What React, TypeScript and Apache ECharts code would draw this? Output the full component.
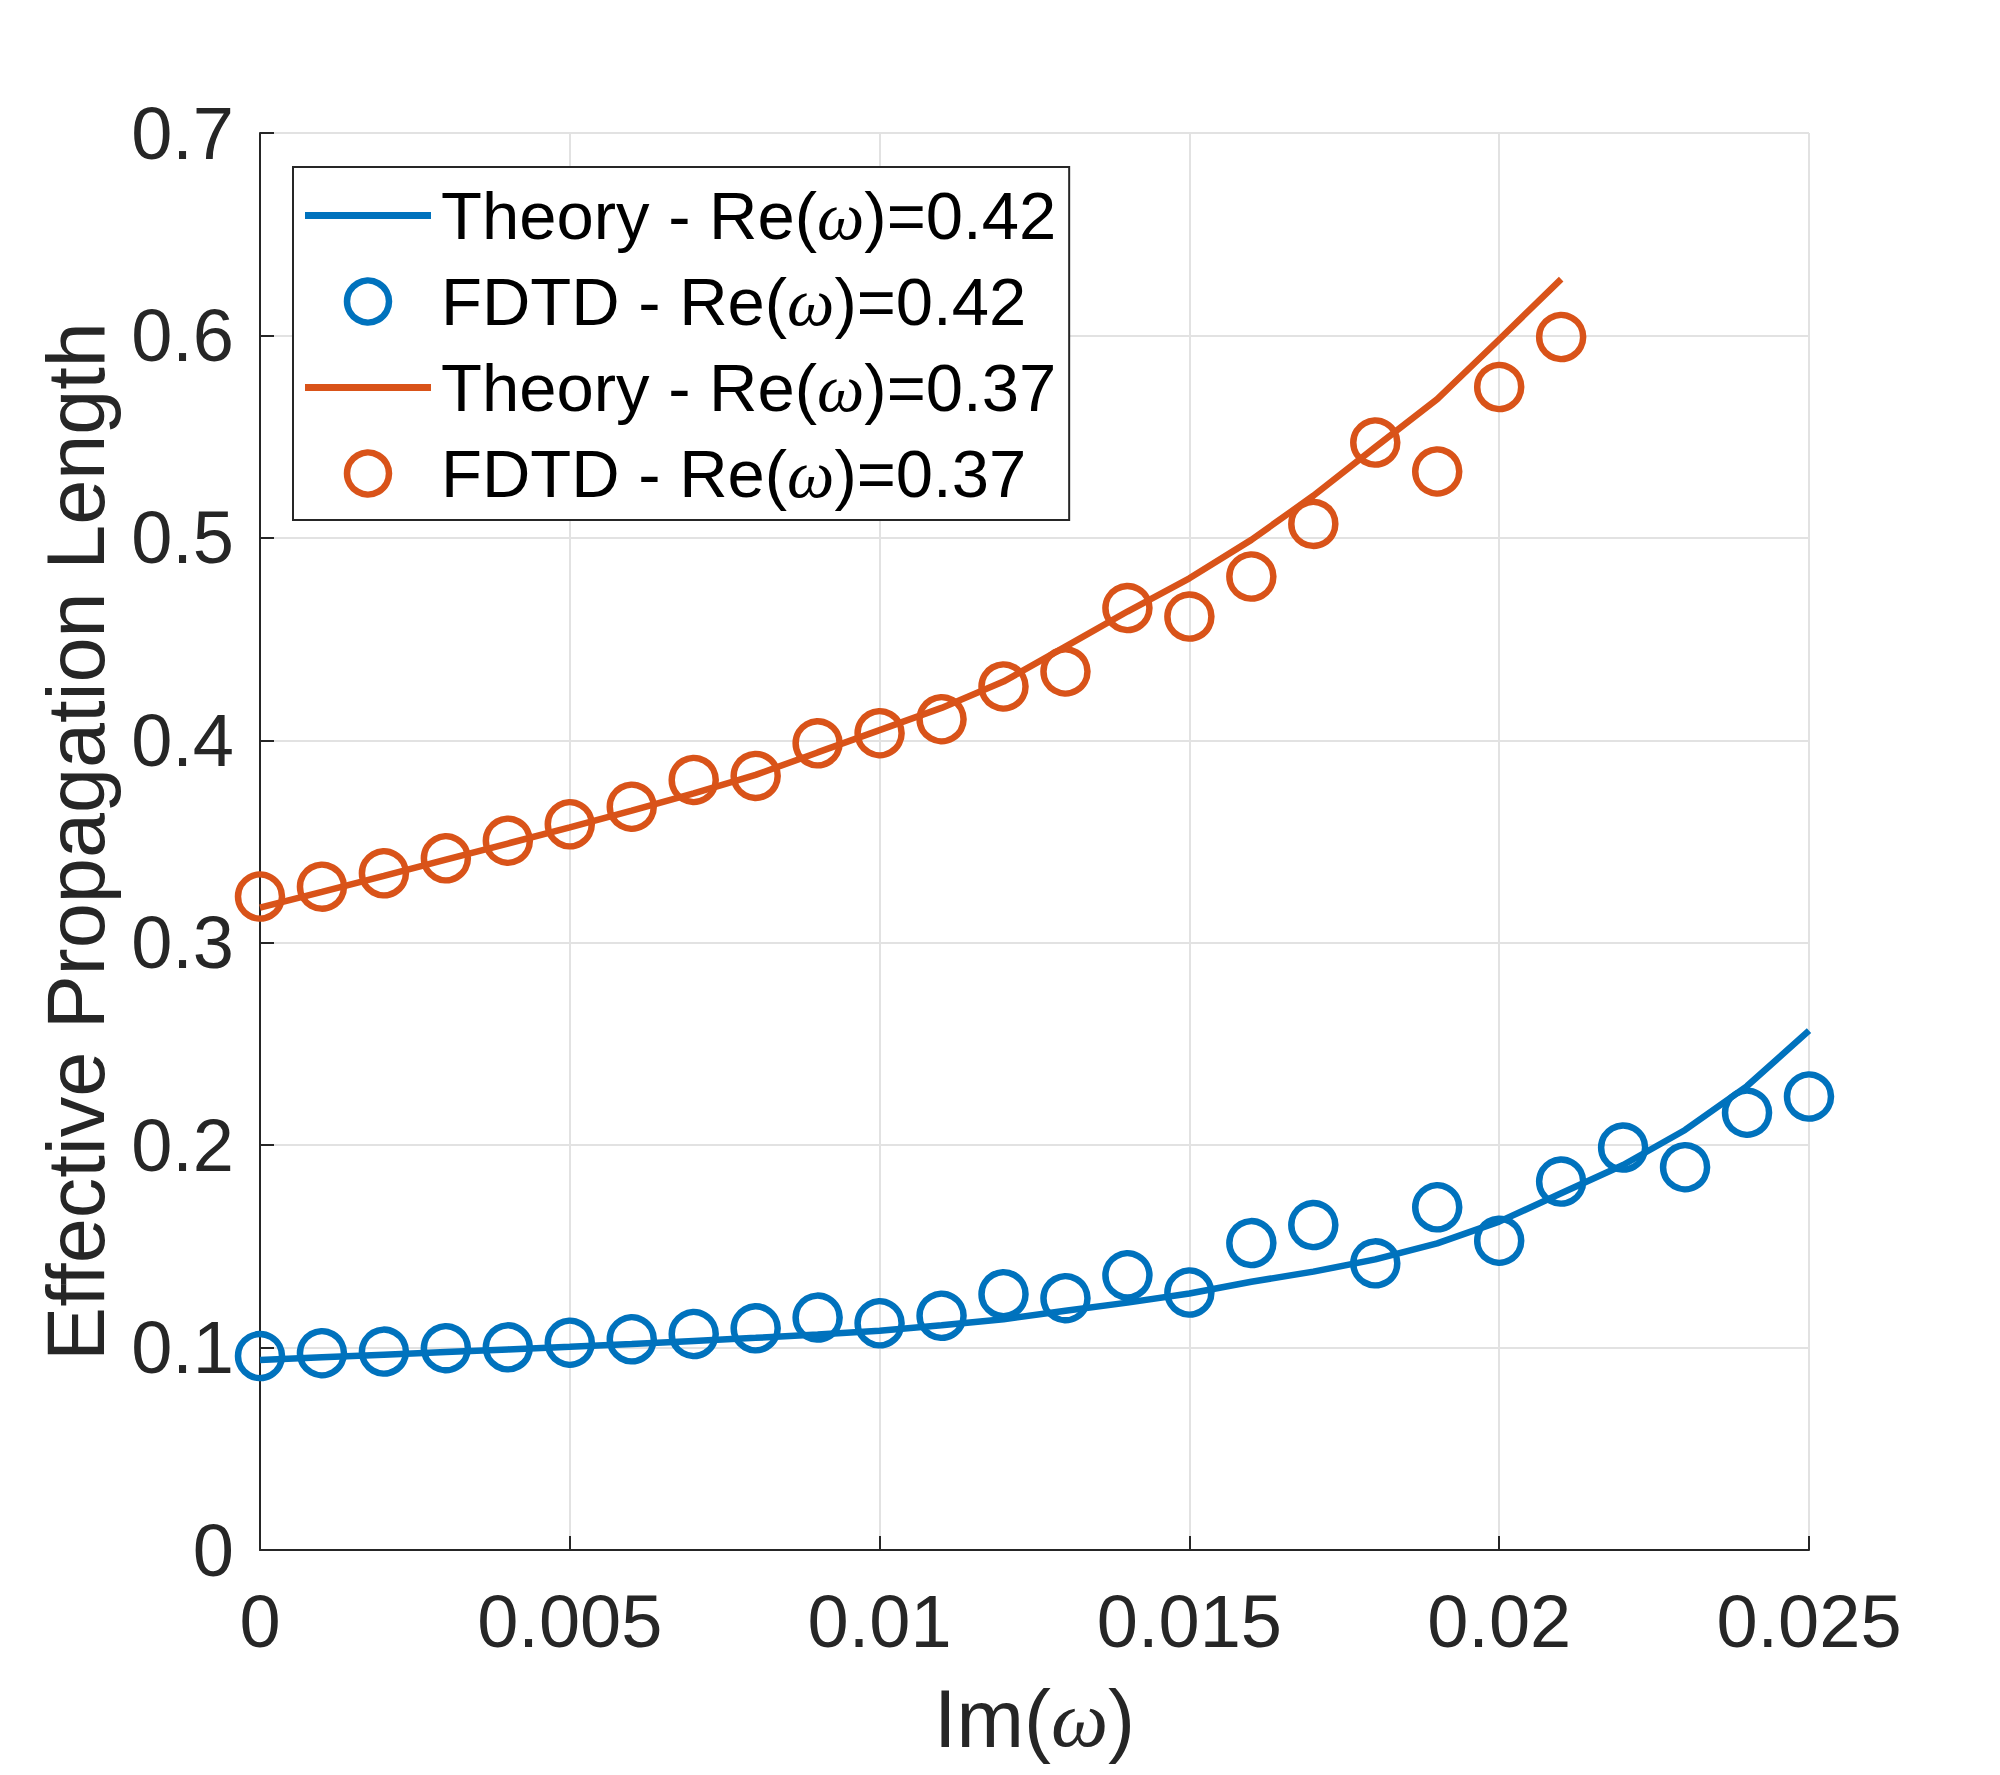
import React, { useEffect, useRef } from "react";
import * as echarts from "echarts";

const imOmegaLong = [0, 0.001, 0.002, 0.003, 0.004, 0.005, 0.006, 0.007, 0.008, 0.009, 0.01, 0.011, 0.012, 0.013, 0.014, 0.015, 0.016, 0.017, 0.018, 0.019, 0.02, 0.021, 0.022, 0.023, 0.024, 0.025];
const imOmegaShort = [0, 0.001, 0.002, 0.003, 0.004, 0.005, 0.006, 0.007, 0.008, 0.009, 0.01, 0.011, 0.012, 0.013, 0.014, 0.015, 0.016, 0.017, 0.018, 0.019, 0.02, 0.021];

const theory042 = [0.0939, 0.0952, 0.0965, 0.0978, 0.0991, 0.1004, 0.1018, 0.1033, 0.1048, 0.1064, 0.1083, 0.111, 0.114, 0.1182, 0.1222, 0.1267, 0.1325, 0.1375, 0.1436, 0.1515, 0.1622, 0.1762, 0.1902, 0.2075, 0.2292, 0.2566];
const fdtd042 = [0.0958, 0.0972, 0.098, 0.0997, 0.1001, 0.1024, 0.1041, 0.1067, 0.1095, 0.1148, 0.112, 0.1157, 0.1264, 0.1244, 0.1357, 0.1272, 0.1516, 0.1605, 0.1416, 0.1693, 0.1528, 0.182, 0.1988, 0.1891, 0.216, 0.224];
const theory037 = [0.3173, 0.3251, 0.333, 0.341, 0.349, 0.357, 0.3652, 0.3738, 0.3829, 0.394, 0.405, 0.416, 0.429, 0.4463, 0.4636, 0.48, 0.499, 0.5208, 0.5448, 0.5685, 0.598, 0.6278];
const fdtd037 = [0.3228, 0.3277, 0.3343, 0.3417, 0.3504, 0.3585, 0.3672, 0.3804, 0.3824, 0.3985, 0.4035, 0.4104, 0.4266, 0.434, 0.4653, 0.4611, 0.4809, 0.5069, 0.5471, 0.5328, 0.5745, 0.5992];

const seriesNames = ["Theory - Re(ω)=0.42", "FDTD - Re(ω)=0.42", "Theory - Re(ω)=0.37", "FDTD - Re(ω)=0.37"];
const BLUE = "#0072BD";
const ORANGE = "#D95319";
const SANS = "'Liberation Sans', Arial, Helvetica, sans-serif";
const SERIF = "'Liberation Serif', 'DejaVu Serif', serif";
const LINE_ICON = "path://M0 0 H126 V7 H0 Z";

const pairs = (xs: number[], ys: number[]) => xs.map((x, i) => [x, ys[i]]);
const fmt = (v: number) => String(parseFloat(v.toFixed(4)));

export default function App() {
  const ref = useRef<HTMLDivElement>(null);
  useEffect(() => {
    if (!ref.current) return;
    const chart = echarts.init(ref.current, null, { renderer: "svg" });
    const axisLineStyle = { color: "#262626", width: 2 };
    const splitStyle = { color: "#e2e2e2", width: 2 };
    const ringStyle = (c: string) => ({ color: "rgba(255,255,255,0)", borderColor: c, borderWidth: 6.5, opacity: 1 });
    chart.setOption({
      animation: false,
      backgroundColor: "#ffffff",
      grid: { left: 260, top: 133, width: 1549, height: 1417, containLabel: false },
      xAxis: {
        type: "value",
        min: 0,
        max: 0.025,
        interval: 0.005,
        name: "{a|Im(}{w|ω}{a|)}",
        nameLocation: "middle",
        nameGap: 128,
        nameTextStyle: {
          rich: {
            a: { fontSize: 81, fontFamily: SANS, color: "#262626" },
            w: { fontSize: 81, fontFamily: SERIF, fontStyle: "italic", color: "#262626" },
          },
        },
        axisLine: { show: true, lineStyle: axisLineStyle },
        axisTick: { show: true, inside: true, length: 14, lineStyle: axisLineStyle },
        axisLabel: { fontSize: 74, fontFamily: SANS, color: "#262626", margin: 34, formatter: fmt },
        splitLine: { show: true, lineStyle: splitStyle },
      },
      yAxis: {
        type: "value",
        min: 0,
        max: 0.7,
        interval: 0.1,
        name: "Effective Propagation Length",
        nameLocation: "middle",
        nameGap: 144,
        nameTextStyle: { fontSize: 81, fontFamily: SANS, color: "#262626" },
        axisLine: { show: true, lineStyle: axisLineStyle },
        axisTick: { show: true, inside: true, length: 14, lineStyle: axisLineStyle },
        axisLabel: { fontSize: 74, fontFamily: SANS, color: "#262626", margin: 26, formatter: fmt },
        splitLine: { show: true, lineStyle: splitStyle },
      },
      legend: {
        orient: "vertical",
        left: 293,
        top: 167,
        padding: [15, 13, 13, 12],
        itemGap: 19,
        itemWidth: 126,
        itemHeight: 42,
        selectedMode: false,
        borderColor: "#262626",
        borderWidth: 2,
        backgroundColor: "#ffffff",
        data: [
          { name: seriesNames[0], icon: LINE_ICON, itemStyle: { color: BLUE, borderWidth: 0 } },
          { name: seriesNames[1], icon: "circle", itemStyle: ringStyle(BLUE) },
          { name: seriesNames[2], icon: LINE_ICON, itemStyle: { color: ORANGE, borderWidth: 0 } },
          { name: seriesNames[3], icon: "circle", itemStyle: ringStyle(ORANGE) },
        ],
        formatter: (name: string) => {
          const [pre, post] = name.split("ω");
          return `{a|${pre}}{w|ω}{a|${post}}`;
        },
        textStyle: {
          color: "#000000",
          fontSize: 67,
          fontFamily: SANS,
          padding: [0, 0, 0, 5],
          rich: {
            a: { fontSize: 67, fontFamily: SANS, color: "#000000" },
            w: { fontSize: 67, fontFamily: SERIF, fontStyle: "italic", color: "#000000" },
          },
        },
      },
      series: [
        {
          name: seriesNames[0],
          type: "line",
          data: pairs(imOmegaLong, theory042),
          symbol: "none",
          showSymbol: false,
          color: BLUE,
          lineStyle: { color: BLUE, width: 6.5 },
          z: 2,
        },
        {
          name: seriesNames[1],
          type: "scatter",
          data: pairs(imOmegaLong, fdtd042),
          symbol: "circle",
          symbolSize: 44,
          color: BLUE,
          itemStyle: ringStyle(BLUE),
          z: 3,
        },
        {
          name: seriesNames[2],
          type: "line",
          data: pairs(imOmegaShort, theory037),
          symbol: "none",
          showSymbol: false,
          color: ORANGE,
          lineStyle: { color: ORANGE, width: 6.5 },
          z: 4,
        },
        {
          name: seriesNames[3],
          type: "scatter",
          data: pairs(imOmegaShort, fdtd037),
          symbol: "circle",
          symbolSize: 44,
          color: ORANGE,
          itemStyle: ringStyle(ORANGE),
          z: 5,
        },
      ],
    });
    return () => chart.dispose();
  }, []);
  return (
    <div
      ref={ref}
      style={{ position: "absolute", left: 0, top: 0, width: 2000, height: 1775, background: "#fff" }}
    />
  );
}
